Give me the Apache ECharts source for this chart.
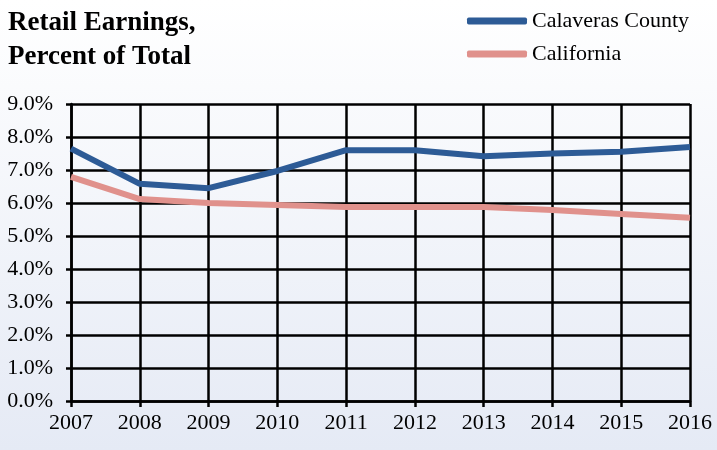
<!DOCTYPE html>
<html><head><meta charset="utf-8">
<script src="https://cdn.jsdelivr.net/npm/echarts@6/dist/echarts.min.js"></script>
<style>html,body{margin:0;padding:0;}#c{width:717px;height:450px;}</style>
</head><body><div id="c"></div>
<script>
const years = ['2007','2008','2009','2010','2011','2012','2013','2014','2015','2016'];
const calaveras = [7.65, 6.58, 6.45, 6.97, 7.6, 7.6, 7.42, 7.5, 7.55, 7.7];
const california = [6.79, 6.12, 6.0, 5.94, 5.88, 5.88, 5.88, 5.79, 5.67, 5.55];
const seriesNames = ['Calaveras County', 'California'];
const F = '"Liberation Serif", "Times New Roman", serif';
const chart = echarts.init(document.getElementById('c'));
chart.setOption({
  backgroundColor: new echarts.graphic.LinearGradient(0,0,0,1,[{offset:0,color:'#ffffff'},{offset:1,color:'#e5eaf5'}]),
  animation: false,
  title: {
    text: 'Retail Earnings,\nPercent of Total',
    left: 8, top: 6, padding: 0,
    textStyle: {fontFamily: F, fontSize: 27, fontWeight: 'bold', color: '#000', lineHeight: 34}
  },
  legend: {
    orient: 'vertical', left: 462, top: 5,
    itemWidth: 60, itemHeight: 7, itemGap: 11, icon: 'roundRect',
    textStyle: {fontFamily: F, fontSize: 22, color: '#000'},
    data: seriesNames
  },
  grid: {left: 71, right: 27, top: 104, bottom: 49},
  xAxis: {
    type: 'category', data: years, boundaryGap: false,
    axisLine: {lineStyle: {color: '#000', width: 2.5}},
    axisTick: {show: true, length: 6, lineStyle: {color: '#000', width: 2.5}},
    axisLabel: {fontFamily: F, fontSize: 22, color: '#000', margin: 11},
    splitLine: {show: true, lineStyle: {color: '#000', width: 2.5}}
  },
  yAxis: {
    type: 'value', min: 0, max: 9, interval: 1,
    axisLine: {show: true, lineStyle: {color: '#000', width: 2.5}},
    axisTick: {show: true, length: 5, lineStyle: {color: '#000', width: 2.5}},
    axisLabel: {fontFamily: F, fontSize: 22, color: '#000', margin: 18, formatter: v => v.toFixed(1) + '%'},
    splitLine: {show: true, lineStyle: {color: '#000', width: 2.5}}
  },
  series: [
    {name: seriesNames[0], type: 'line', data: calaveras, symbol: 'none', lineStyle: {color: '#2d5b96', width: 6}, itemStyle: {color: '#2d5b96'}},
    {name: seriesNames[1], type: 'line', data: california, symbol: 'none', lineStyle: {color: '#e0918c', width: 6}, itemStyle: {color: '#e0918c'}}
  ]
});
</script></body></html>
